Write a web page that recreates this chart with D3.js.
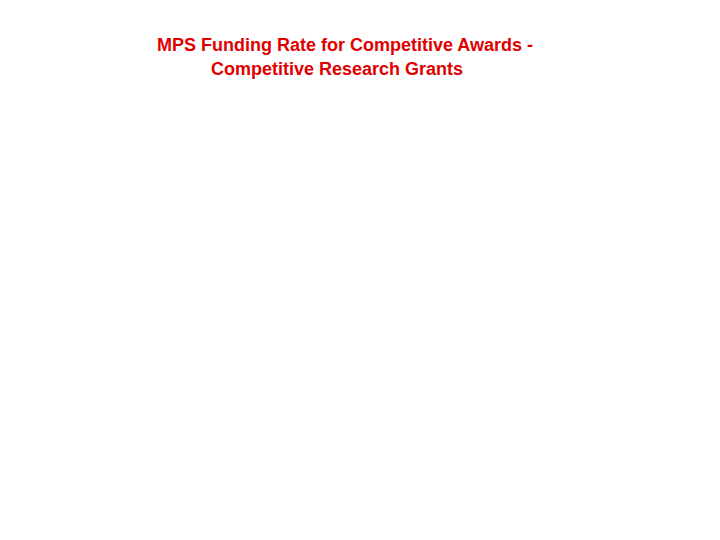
<!DOCTYPE html>
<meta charset="utf-8">
<style>
body { margin: 0; background: #fff; }
.title text {
  font: bold 18px "Liberation Sans", Arial, sans-serif;
  fill: #e00000;
}
</style>
<body>
<script src="https://d3js.org/d3.v7.min.js"></script>
<script>

width = 720;
height = 540;

// the slide only carries its title, no plotted data
titleLines = ["MPS Funding Rate for Competitive Awards -", "Competitive Research Grants"];
titleX = [157, 211];
titleY = [51, 75];

var svg = d3.select("body").append("svg")
    .attr("width", width)
    .attr("height", height)

svg.append("g")
    .attr("class", "title")
    .selectAll("text")
    .data(titleLines)
    .join("text")
      .attr("x", (d, i) => titleX[i])
      .attr("y", (d, i) => titleY[i])
      .text(d => d)

</script>
